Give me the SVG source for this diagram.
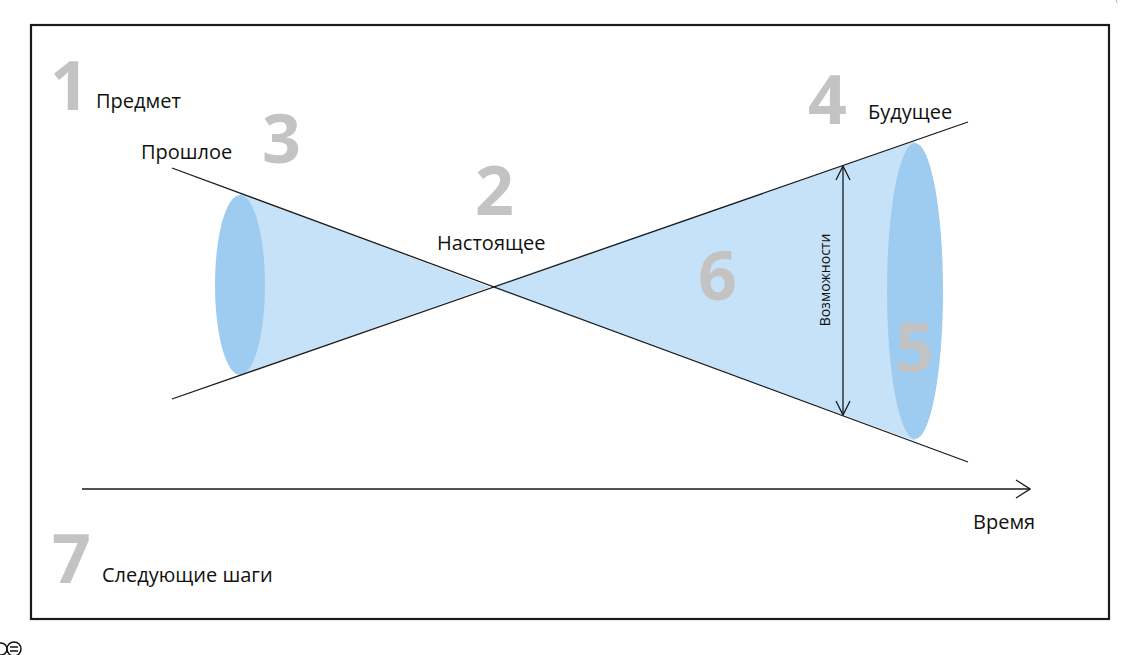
<svg xmlns="http://www.w3.org/2000/svg" width="1141" height="655" viewBox="0 0 1141 655">
  <defs>
    <style>
      .lbl { font-family: "Open Sans", "Liberation Sans", sans-serif; font-size: 20px; fill: #111; }
      .num { font-family: "Open Sans", "Liberation Sans", sans-serif; font-size: 68px; font-weight: 700; fill: #c3c3c3; }
      .ln { stroke: #1a1a1a; stroke-width: 1.3; fill: none; }
      .cone { fill: #c6e2f8; }
      .base { fill: #9ecbf0; }
    </style>
    <marker id="open" markerWidth="16" markerHeight="20" refX="15" refY="10" orient="auto" markerUnits="userSpaceOnUse">
      <path d="M1,1 L15,10 L1,19" fill="none" stroke="#1a1a1a" stroke-width="1.3"/>
    </marker>
    <marker id="openS" markerWidth="16" markerHeight="20" refX="15" refY="10" orient="auto-start-reverse" markerUnits="userSpaceOnUse">
      <path d="M1,3 L15,10 L1,17" fill="none" stroke="#1a1a1a" stroke-width="1.3"/>
    </marker>
  </defs>
  <rect width="1141" height="655" fill="#fff"/>
  <rect x="31" y="25" width="1078" height="594" fill="none" stroke="#1a1a1a" stroke-width="2.2"/>
  <line x1="1116" y1="0" x2="1117" y2="3" stroke="#f0a0a0" stroke-width="1"/>

  <g id="past-cone">
    <polygon class="cone" points="490,287 240,193 240,375"/>
    <ellipse class="base" cx="240" cy="285" rx="25" ry="90"/>
  </g>
  <g id="future-cone">
    <polygon class="cone" points="490,287 915,141 915,441"/>
    <ellipse class="base" cx="915" cy="291" rx="28" ry="148"/>
  </g>

  <g id="connectors">
    <line class="ln" x1="172" y1="168" x2="968" y2="462"/>
    <line class="ln" x1="172" y1="399" x2="968" y2="122"/>
    <line class="ln" x1="843" y1="166" x2="843" y2="415" marker-start="url(#openS)" marker-end="url(#openS)"/>
    <line class="ln" x1="82" y1="489" x2="1030" y2="489" marker-end="url(#open)"/>
  </g>

  <g id="n1"><text class="num" x="50" y="110">1</text><text class="lbl" x="96" y="108">Предмет</text></g>
  <g id="n3"><text class="num" x="262" y="163">3</text><text class="lbl" x="141" y="159">Прошлое</text></g>
  <g id="n2"><text class="num" x="475" y="215">2</text><text class="lbl" x="437" y="250">Настоящее</text></g>
  <g id="n4"><text class="num" x="808" y="124">4</text><text class="lbl" x="868" y="119">Будущее</text></g>
  <g id="n6"><text class="num" x="698" y="300">6</text></g>
  <g id="n5"><text class="num" x="895" y="372">5</text></g>
  <g id="opp"><text class="lbl" style="font-size:14px" text-anchor="middle" transform="translate(830,280) rotate(-90)">Возможности</text></g>
  <g id="time"><text class="lbl" x="973" y="529">Время</text></g>
  <g id="n7"><text class="num" x="52" y="583">7</text><text class="lbl" x="102" y="582">Следующие шаги</text></g>

  <g id="cc-icon" fill="none" stroke="#111" stroke-width="1.5">
    <circle cx="1" cy="649" r="6"/>
    <circle cx="14" cy="649" r="7"/>
    <line x1="10" y1="647" x2="18" y2="647"/>
    <line x1="10" y1="651" x2="18" y2="651"/>
  </g>
</svg>
